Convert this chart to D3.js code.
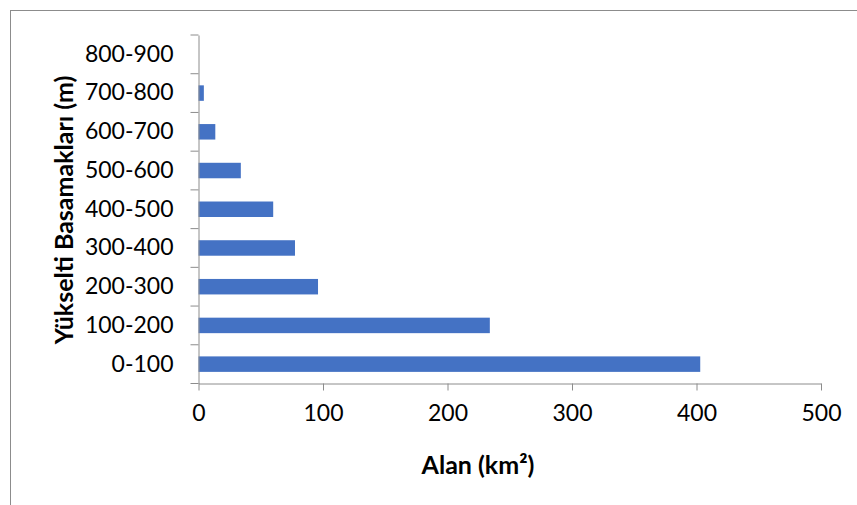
<!DOCTYPE html>
<html><head><meta charset="utf-8">
<script src="https://cdn.jsdelivr.net/npm/d3@7"></script>
<style>body{margin:0;background:#fff}svg{display:block}</style>
</head><body>
<svg id="c" width="857" height="505"></svg>
<script>
const categories = ["0-100","100-200","200-300","300-400","400-500","500-600","600-700","700-800","800-900"];
const values = [403, 234, 96, 77.5, 60, 34, 13.5, 4.3, 0];
const xTicks = [0,100,200,300,400,500];
const xTitle = "Alan (km²)";
const yTitle = "Yükselti Basamakları (m)";

(function(){
const svg = d3.select("#c");
const font = "Lato, 'Open Sans', sans-serif";
svg.append("rect").attr("x",10.5).attr("y",10.5).attr("width",900).attr("height",600)
  .attr("fill","none").attr("stroke","#8c8c8c").attr("stroke-width",1);

const pL=198.5, pR=821, pT=35, pB=383.5;
const x = d3.scaleLinear().domain([0,500]).range([pL,pR]);
const y = d3.scaleBand().domain(categories.slice().reverse()).range([pT,pB]).paddingInner(0.6).paddingOuter(0.3);

svg.append("g").selectAll("rect").data(categories).join("rect")
  .attr("x",x(0)).attr("y",d=>y(d)).attr("height",y.bandwidth())
  .attr("width",(d,i)=>x(values[i])-x(0)).attr("fill","#4472C4");

const xa = svg.append("g").attr("transform",`translate(0,${pB})`)
  .call(d3.axisBottom(x).tickValues(xTicks).tickSize(7).tickPadding(14).tickSizeOuter(0));
const yb = d3.scaleBand().domain(categories.slice().reverse()).range([pT,pB]);
const ya = svg.append("g").attr("transform",`translate(${pL},0)`)
  .call(d3.axisLeft(yb).tickSize(0).tickPadding(25).tickSizeOuter(0));
svg.append("g").selectAll("line").data(d3.range(categories.length+1)).join("line")
  .attr("x1",pL-8).attr("x2",pL).attr("y1",i=>pT+i*yb.step()).attr("y2",i=>pT+i*yb.step())
  .attr("stroke","#8c8c8c");
[xa,ya].forEach(a=>{
  a.selectAll("path,line").attr("stroke","#8c8c8c");
  a.selectAll("text").attr("font-family",font).attr("font-size",23).attr("fill","#000");
});
xa.selectAll("text").attr("dy","0.71em");

svg.append("text").attr("x",478).attr("y",474).attr("text-anchor","middle")
  .attr("font-family",font).attr("font-weight","bold").attr("font-size",25).text(xTitle);
svg.append("text").attr("transform","translate(73,210) rotate(-90)").attr("text-anchor","middle")
  .attr("font-family",font).attr("font-weight","bold").attr("font-size",25).text(yTitle);
})();
</script>
</body></html>
